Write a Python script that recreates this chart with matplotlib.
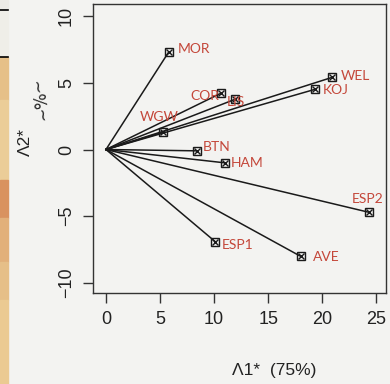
import numpy as np
import matplotlib
matplotlib.use("Agg")
import matplotlib.pyplot as plt
from matplotlib.patches import Rectangle

# site scores on the two canonical axes
sites = ["MOR", "WEL", "KOJ", "COR", "LIS", "WGW", "BTN", "HAM", "ESP2", "ESP1", "AVE"]
ax1 = [5.8, 20.9, 19.3, 10.6, 11.9, 5.3, 8.4, 11.0, 24.3, 10.1, 18.0]
ax2 = [7.3, 5.4, 4.5, 4.2, 3.75, 1.3, -0.1, -1.0, -4.7, -6.9, -8.0]

xticks = [0, 5, 10, 15, 20, 25]
yticks = [-10, -5, 0, 5, 10]

# label placement (pixel offsets, alignment)
lab_off = {"MOR": (9, 3, "left"), "WEL": (9, 1, "left"), "KOJ": (8, -1, "left"),
           "COR": (-1, -3, "right"), "LIS": (1, -3, "center"), "WGW": (-4, 15, "center"),
           "BTN": (6, 4, "left"), "HAM": (6, 0, "left"), "ESP2": (-1, 13, "center"),
           "ESP1": (7, -3, "left"), "AVE": (12, -1, "left")}

paper = "#f3f3f1"
red = "#c4473a"

fig = plt.figure(figsize=(3.9, 3.84), dpi=100, facecolor=paper)

# coloured strip of the neighbouring figure on the left edge
W, H = 390.0, 384.0
strip = [(0, 10, "#ecebe6"), (10, 57, "#efeee8"), (57, 100, "#e6c088"), (100, 180, "#ebcd98"),
         (180, 218, "#d9925f"), (218, 262, "#e2b07a"), (262, 300, "#e6bf88"), (300, 384, "#ebca92")]
for y0, y1, c in strip:
    fig.patches.append(Rectangle((0, 1 - y1 / H), 8 / W, (y1 - y0) / H,
                                 transform=fig.transFigure, color=c, zorder=0))
for yl in [10, 57]:
    fig.add_artist(plt.Line2D([0, 8 / W], [1 - yl / H] * 2, transform=fig.transFigure,
                              color="black", lw=1.2))

ax = fig.add_axes([93 / W, 1 - 293 / H, (386 - 93) / W, (293 - 4) / H])
ax.set_facecolor(paper)

for x, y, s in zip(ax1, ax2, sites):
    ax.plot([0, x], [0, y], color="#1a1a1a", lw=1.1, zorder=2)
ax.plot(ax1, ax2, "s", ms=6, mfc="none", mec="#1a1a1a", mew=1.0, zorder=3)
ax.plot(ax1, ax2, "x", ms=5, mec="#1a1a1a", mew=1.0, zorder=3)

for x, y, s in zip(ax1, ax2, sites):
    dx, dy, ha = lab_off[s]
    ax.annotate(s, (x, y), xytext=(dx, dy), textcoords="offset pixels",
                ha=ha, va="center", color=red, fontsize=10, family="Lato")

ax.set_xlim(-1.2, 25.9)
ax.set_ylim(-10.75, 10.9)
ax.set_xticks(xticks)
ax.set_yticks(yticks)
ax.tick_params(direction="out", length=7, width=1, color="#333333", pad=6,
               labelsize=13, labelcolor="#222222")
for lab in ax.get_xticklabels() + ax.get_yticklabels():
    lab.set_family("Liberation Sans")
for lab in ax.get_yticklabels():
    lab.set_rotation(90)
    lab.set_va("center")
for sp in ax.spines.values():
    sp.set_color("#333333")
    sp.set_linewidth(1)

fig.text(274 / W, 1 - 371 / H, "Λ1*  (75%)", ha="center", va="center",
         fontsize=12.5, family="Liberation Sans", color="#222222")
fig.text(25 / W, 1 - 142 / H, "Λ2*", ha="center", va="center", rotation=90,
         fontsize=12.5, family="Liberation Sans", color="#222222")
fig.text(41 / W, 1 - 98 / H, "~%~", ha="center", va="center", rotation=100,
         fontsize=12, family="DejaVu Sans", color="#222222")

fig.savefig("out.png", dpi=100, facecolor=paper)
